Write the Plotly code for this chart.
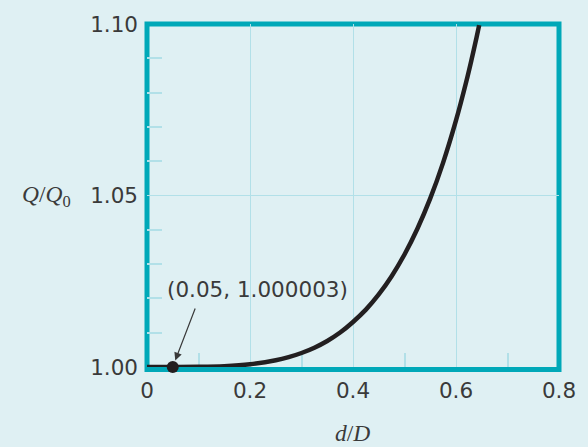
import plotly.graph_objects as go

# Data
d_over_D = [0.0, 0.05, 0.1, 0.15, 0.2, 0.25, 0.275, 0.3, 0.325, 0.35, 0.375, 0.4,
            0.425, 0.45, 0.475, 0.5, 0.525, 0.55, 0.575, 0.6, 0.62, 0.63, 0.64, 0.645]
q_ratio = [1.0, 1.000003, 1.00005, 1.00025, 1.0008, 1.00196, 1.00287, 1.00408,
           1.00563, 1.00759, 1.01004, 1.01313, 1.01672, 1.02115, 1.02647,
           1.0328, 1.0403, 1.04915, 1.05959, 1.07187, 1.08322, 1.08949,
           1.09617, 1.09968]
marked_x = [0.05]
marked_y = [1.000003]
marked_label = "(0.05, 1.000003)"
x_title = "<i>d</i>/<i>D</i>"
y_title = "<i>Q</i>/<i>Q</i><sub>0</sub>"

BG = "#dff0f3"
TEAL = "#00a8b8"
GRID = "#b2e0e8"
TXT = "#3a3a3a"
CURVE = "#231f20"

W, H = 588, 447
L, R, T, B = 146.8, 561.8, 17.5, 367.0
plot_h = B - T
FS = 21.5

fig = go.Figure()
fig.add_trace(go.Scatter(x=d_over_D, y=q_ratio, mode="lines",
                         line=dict(color=CURVE, width=4.5, shape="spline", smoothing=1.0),
                         hoverinfo="skip", showlegend=False))
fig.add_trace(go.Scatter(x=marked_x, y=marked_y, mode="markers",
                         marker=dict(color=CURVE, size=12), cliponaxis=False,
                         showlegend=False))

# border frame
fig.add_shape(type="rect", xref="paper", yref="paper", x0=0, x1=1,
              y0=-2.5 / plot_h, y1=1, line=dict(color=TEAL, width=5),
              layer="between")

fig.update_layout(
    width=W, height=H,
    margin=dict(l=L, r=W - R, t=T, b=H - B, pad=0),
    paper_bgcolor=BG, plot_bgcolor=BG,
    font=dict(family="DejaVu Sans", size=FS, color=TXT),
    showlegend=False,
)
fig.update_xaxes(range=[0, 0.8], tick0=0, dtick=0.2, showline=False, zeroline=False,
                 showgrid=True, gridcolor=GRID, gridwidth=1, ticks="",
                 ticklabelstandoff=8, layer="below traces",
                 minor=dict(ticks="inside", ticklen=14, tickwidth=1.5, tickcolor=GRID,
                            tick0=0, dtick=0.1, showgrid=False))
fig.update_yaxes(range=[1.0, 1.1], tick0=1.0, dtick=0.05, tickformat=".2f",
                 showline=False, zeroline=False,
                 showgrid=True, gridcolor=GRID, gridwidth=1, ticks="",
                 ticklabelstandoff=8, layer="below traces",
                 minor=dict(ticks="inside", ticklen=15, tickwidth=1.5, tickcolor=GRID,
                            tick0=1.0, dtick=0.01, showgrid=False))

fig.add_annotation(xref="x", yref="y", x=marked_x[0], y=marked_y[0], text="",
                   showarrow=True, ax=23, ay=-60, arrowhead=2, arrowsize=1.3,
                   arrowwidth=1.2, arrowcolor=TXT, standoff=7)
fig.add_annotation(xref="x", yref="y", x=0.2144, y=1.0225, text=marked_label,
                   showarrow=False, font=dict(family="DejaVu Sans", size=FS, color=TXT))
fig.add_annotation(xref="paper", yref="paper", x=0, y=0.5, xanchor="right",
                   yanchor="middle", xshift=-(L - 73), yshift=0, text=y_title,
                   showarrow=False,
                   font=dict(family="Liberation Serif", size=23.5, color=TXT))
fig.add_annotation(xref="paper", yref="paper", x=(353.5 - L) / (R - L), y=0,
                   xanchor="center", yanchor="middle", yshift=-(433 - B),
                   text=x_title, showarrow=False,
                   font=dict(family="Liberation Serif", size=23.5, color=TXT))

fig.write_html("out.html", config={"displayModeBar": False},
               post_script="document.body.style.margin='0';document.body.style.background='%s';" % BG)
